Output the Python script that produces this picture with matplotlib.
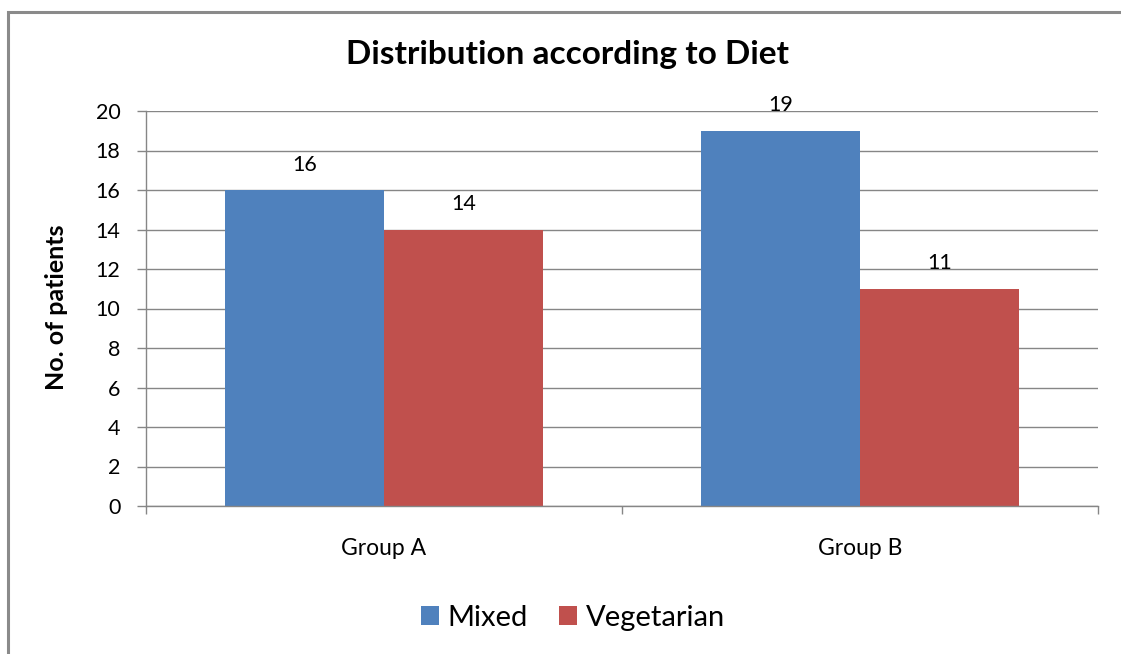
import matplotlib
matplotlib.use("Agg")
import matplotlib.pyplot as plt
from matplotlib.patches import Rectangle
import numpy as np

plt.rcParams['font.family'] = ['Lato', 'DejaVu Sans']

groups = ["Group A", "Group B"]
series = ["Mixed", "Vegetarian"]
mixed = [16, 19]
vegetarian = [14, 11]
colors = ["#4F81BD", "#C0504D"]
yticks = [0, 2, 4, 6, 8, 10, 12, 14, 16, 18, 20]

W, H = 1121, 654
fig = plt.figure(figsize=(W / 100, H / 100), dpi=100)
fig.patch.set_facecolor("white")

# outer chart frame
fig.patches.append(Rectangle((7.5 / W, -0.1), 1.2, 1 - 11.5 / H + 0.1,
                             transform=fig.transFigure, fill=False,
                             edgecolor="#8a8a8a", linewidth=2.2, zorder=0))

ax = fig.add_axes([146 / W, 1 - 506 / H, (1098 - 146) / W, (506 - 111) / H])

x = np.arange(len(groups))
bw = 1 / 3
b1 = ax.bar(x - bw / 2, mixed, bw, color=colors[0], label=series[0], zorder=3)
b2 = ax.bar(x + bw / 2, vegetarian, bw, color=colors[1], label=series[1], zorder=3)

for bars, vals in ((b1, mixed), (b2, vegetarian)):
    for rect, v in zip(bars, vals):
        ax.annotate(str(v), (rect.get_x() + rect.get_width() / 2, v),
                    xytext=(0, 11), textcoords="offset points",
                    ha="center", va="bottom", fontsize=15.5, color="black")

ax.set_xlim(-0.5, 1.5)
ax.set_ylim(0, 20)
ax.set_yticks(yticks)
ax.tick_params(axis="y", length=6.5, width=1, color="#868686", pad=12,
               labelsize=15.5)
ax.set_xticks(x)
ax.set_xticklabels(groups)
ax.tick_params(axis="x", which="major", length=0, pad=23, labelsize=16.5)
ax.set_xticks([-0.5, 0.5, 1.5], minor=True)
ax.tick_params(axis="x", which="minor", length=6, width=1, color="#868686")

ax.grid(axis="y", color="#868686", linewidth=1, zorder=0)
for side in ("top", "right"):
    ax.spines[side].set_visible(False)
for side in ("left", "bottom"):
    ax.spines[side].set_color("#868686")
    ax.spines[side].set_linewidth(1)
ax.spines["bottom"].set_zorder(4)

fig.text(56 / W, 1 - 307 / H, "No. of patients", rotation=90,
         ha="center", va="center", fontsize=18, fontweight="bold")

fig.text(568 / W, 1 - 64 / H, "Distribution according to Diet",
         ha="center", va="baseline", fontsize=24, fontweight="bold")

fig.legend(handles=[b1, b2], labels=series, loc="center",
           bbox_to_anchor=(573 / W, 1 - 618 / H), ncol=2, frameon=False,
           fontsize=21, handlelength=0.62, handleheight=0.62,
           handletextpad=0.3, columnspacing=1.05, borderpad=0)

fig.savefig("out.png", dpi=100, facecolor="white")
